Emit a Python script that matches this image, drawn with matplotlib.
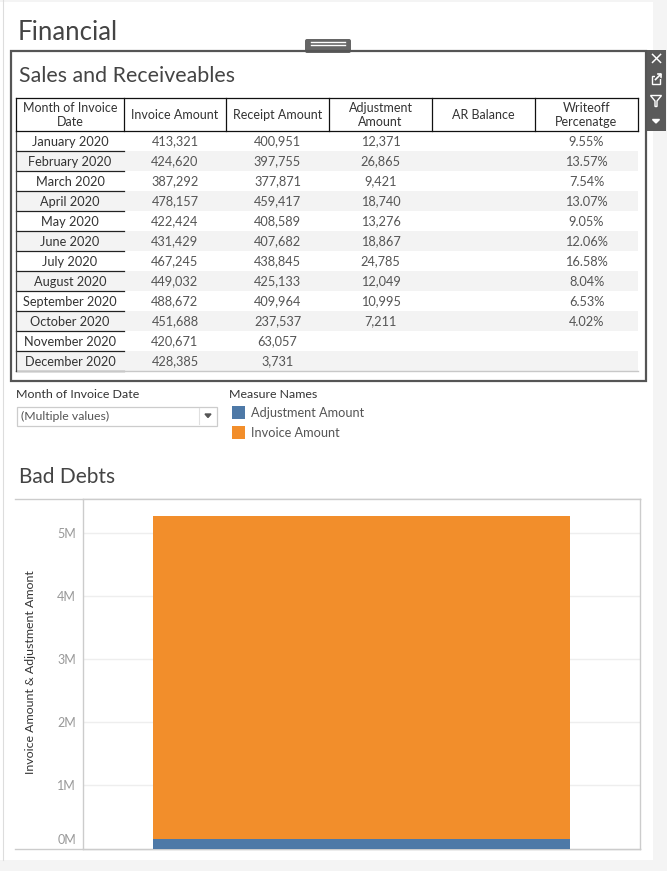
import matplotlib.pyplot as plt
from matplotlib.patches import Rectangle, FancyBboxPatch, Polygon
from matplotlib.ticker import FuncFormatter, FixedLocator
from matplotlib.transforms import ScaledTranslation

plt.rcParams["font.family"] = ["Lato", "DejaVu Sans"]

months = [
    "January 2020", "February 2020", "March 2020", "April 2020",
    "May 2020", "June 2020", "July 2020", "August 2020",
    "September 2020", "October 2020", "November 2020", "December 2020",
]
invoice = [413321, 424620, 387292, 478157, 422424, 431429,
           467245, 449032, 488672, 451688, 420671, 428385]
receipt = [400951, 397755, 377871, 459417, 408589, 407682,
           438845, 425133, 409964, 237537, 63057, 3731]
adjustment = [12371, 26865, 9421, 18740, 13276, 18867,
              24785, 12049, 10995, 7211, None, None]
writeoff = [9.55, 13.57, 7.54, 13.07, 9.05, 12.06,
            16.58, 8.04, 6.53, 4.02, None, None]
headers = ["Month of Invoice\nDate", "Invoice Amount", "Receipt Amount",
           "Adjustment\nAmount", "AR Balance", "Writeoff\nPercenatge"]

measure_names = ["Adjustment Amount", "Invoice Amount"]
measure_colors = ["#4e79a7", "#f28e2b"]
y_ticks = [0, 1e6, 2e6, 3e6, 4e6, 5e6]

W, H = 667, 871
fig = plt.figure(figsize=(W / 100, H / 100), dpi=100)
fig.patch.set_facecolor("white")

# pixel-space overlay for the dashboard furniture
bg = fig.add_axes([0, 0, 1, 1])
bg.set_xlim(0, W)
bg.set_ylim(H, 0)
bg.axis("off")

GRAY_BG = "#f4f4f4"
bg.add_patch(Rectangle((653, 0), W - 653, H, color=GRAY_BG, lw=0))
bg.add_patch(Rectangle((0, 860), W, H - 860, color=GRAY_BG, lw=0))
bg.add_patch(Rectangle((0, 0), W, 2.5, color=GRAY_BG, lw=0))
bg.plot([2.5, 2.5], [0, 860], color="#dddddd", lw=0.8)

bg.text(18, 32, "Financial", fontsize=18.5, color="#444444", va="center")

# drag handle
bg.add_patch(FancyBboxPatch((305, 39), 46, 14, boxstyle="round,pad=0,rounding_size=2",
                            fc="#666666", ec="none"))
for yy in (42.5, 45.5):
    bg.plot([311, 345], [yy, yy], color="white", lw=1)

# panel
bg.add_patch(Rectangle((11, 51), 635, 330, fill=False, ec="#555555", lw=1.6, zorder=3))
bg.add_patch(Rectangle((646, 50), 20, 81, color="#5a5a5a", lw=0))
bg.text(656, 60, "×", color="white", fontsize=13, ha="center", va="center",
        family="DejaVu Sans")
bg.add_patch(Rectangle((651.5, 76), 8, 8, fill=False, ec="white", lw=1))
bg.add_patch(Rectangle((655, 73.5), 6, 6, color="#5a5a5a", lw=0))
bg.plot([655.5, 660.5], [79.5, 74.5], color="white", lw=1.2)
bg.plot([657.5, 660.5, 660.5], [74.5, 74.5, 77.5], color="white", lw=1.2)
bg.add_patch(Polygon([[650.5, 95.5], [661.5, 95.5], [657, 101], [657, 106.5],
                      [655, 106.5], [655, 101]], closed=True, fill=False,
                     ec="white", lw=1))
bg.add_patch(Polygon([[652.5, 119.5], [659.5, 119.5], [656, 123]], color="white"))

bg.text(19, 75.5, "Sales and Receiveables", fontsize=15.4, color="#444444", va="center")

# table
col_edges = [16, 124, 226, 329, 432, 535, 638]
head_top, head_bot = 98, 131
row_h = 20
for i in range(len(months)):
    top = head_bot + i * row_h
    if i % 2 == 1:
        bg.add_patch(Rectangle((col_edges[0], top), col_edges[-1] - col_edges[0], row_h,
                               color="#f3f3f3", lw=0))
    bg.plot([col_edges[0], col_edges[1]], [top + row_h, top + row_h], color="#222222", lw=0.9)
bottom = head_bot + len(months) * row_h
bg.plot([col_edges[0], col_edges[-1]], [bottom, bottom], color="#c8c8c8", lw=1)
bg.plot([col_edges[0], col_edges[0]], [head_bot, bottom], color="#444444", lw=0.9)

bg.plot([col_edges[0], col_edges[-1]], [head_top, head_top], color="#111111", lw=0.9)
bg.plot([col_edges[0], col_edges[-1]], [head_bot, head_bot], color="#111111", lw=0.9)
for x in col_edges:
    bg.plot([x, x], [head_top, head_bot], color="#111111", lw=0.9)

centers = [(a + b) / 2 for a, b in zip(col_edges[:-1], col_edges[1:])]
for c, h in zip(centers, headers):
    bg.text(c, (head_top + head_bot) / 2 + 0.5, h, ha="center", va="center",
            fontsize=9.0, color="#333333", linespacing=1.25)

for i, m in enumerate(months):
    yc = head_bot + i * row_h + row_h / 2 + 0.5
    bg.text(centers[0], yc, m, ha="center", va="center", fontsize=9.2, color="#333333")
    vals = [
        f"{invoice[i]:,}",
        f"{receipt[i]:,}",
        "" if adjustment[i] is None else f"{adjustment[i]:,}",
        "",
        "" if writeoff[i] is None else f"{writeoff[i]:.2f}%",
    ]
    for c, v in zip(centers[1:], vals):
        bg.text(c, yc, v, ha="center", va="center", fontsize=9.2, color="#555555")

# filter + legend
bg.text(16, 394, "Month of Invoice Date", fontsize=8.9, color="#333333", va="center")
bg.add_patch(Rectangle((16.5, 406.5), 200, 19, fill=False, ec="#cccccc", lw=0.9))
bg.plot([198.5, 198.5], [408, 424], color="#e0e0e0", lw=0.8)
bg.text(21, 416, "(Multiple values)", fontsize=8.8, color="#555555", va="center")
bg.add_patch(Polygon([[205, 414], [211, 414], [208, 417.5]], color="#555555"))

bg.text(229, 394, "Measure Names", fontsize=8.9, color="#333333", va="center")
for k, (name, col) in enumerate(zip(measure_names, measure_colors)):
    yy = 406 + k * 20
    bg.add_patch(Rectangle((232, yy), 13, 13, color=col, lw=0))
    bg.text(251, yy + 7, name, fontsize=9.2, color="#555555", va="center")

bg.text(19, 476.5, "Bad Debts", fontsize=15, color="#444444", va="center")

# chart frame lines extending left of the axis
bg.plot([15, 640], [499, 499], color="#cccccc", lw=1)
bg.plot([15, 640], [848.5, 848.5], color="#cccccc", lw=1)
bg.text(31, 672, "Invoice Amount & Adjustment Amont", rotation=90, fontsize=8.9,
        color="#333333", ha="center", va="center")

# bar chart: measures overlap (not stacked), adjustment drawn in front
ax_l, ax_r, ax_t, ax_b = 83, 640, 499, 848.5
ax = fig.add_axes([ax_l / W, (H - ax_b) / H, (ax_r - ax_l) / W, (ax_b - ax_t) / H])
ax.set_facecolor("white")
totals = [sum(v for v in adjustment if v is not None), sum(invoice)]
ax.bar([0], [totals[1]], width=0.75, color=measure_colors[1], zorder=2)
ax.bar([0], [totals[0]], width=0.75, color=measure_colors[0], zorder=3)
ax.set_xlim(-0.5, 0.5)
ax.set_ylim(0, 5.54e6)
ax.yaxis.set_major_locator(FixedLocator(y_ticks))
ax.yaxis.set_major_formatter(FuncFormatter(lambda v, p: f"{v / 1e6:.0f}M"))
ax.grid(axis="y", color="#eeeeee", lw=1, zorder=0)
ax.set_xticks([])
ax.tick_params(axis="y", length=0, pad=5, labelsize=9, labelcolor="#999999")
for s in ax.spines.values():
    s.set_color("#cccccc")
    s.set_linewidth(1)
for lab in ax.get_yticklabels():
    if lab.get_text() == "0M":
        lab.set_transform(lab.get_transform() + ScaledTranslation(0, 0.10, fig.dpi_scale_trans))

fig.savefig("out.png", dpi=100, facecolor=fig.get_facecolor())
